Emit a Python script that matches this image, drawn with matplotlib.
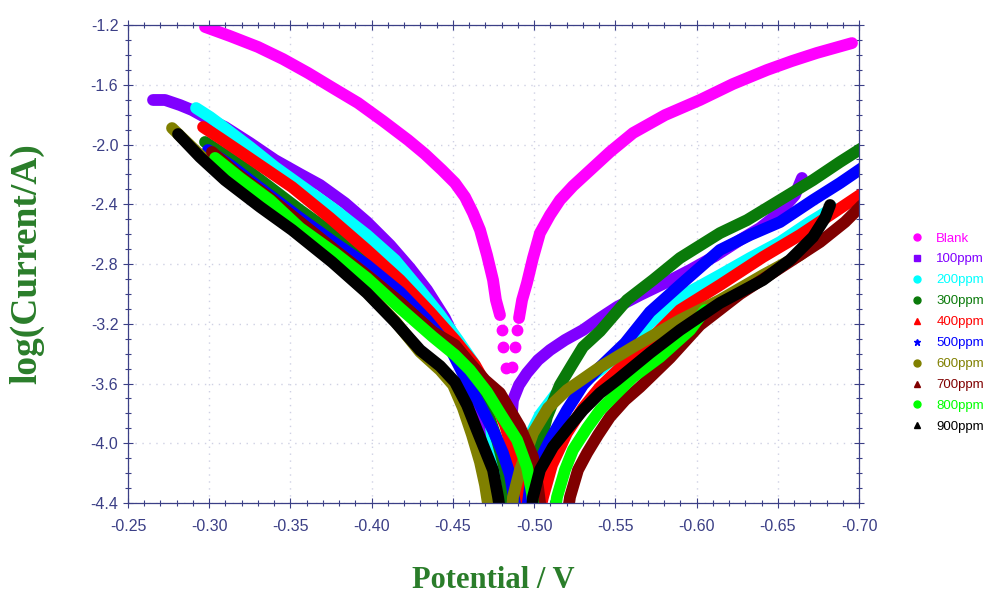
import matplotlib
matplotlib.use("Agg")
import matplotlib.pyplot as plt
from matplotlib.ticker import MultipleLocator, FormatStrFormatter

# ---------- data ----------
labels = ["Blank", "100ppm", "200ppm", "300ppm", "400ppm",
          "500ppm", "600ppm", "700ppm", "800ppm", "900ppm"]
colors = ["#ff00ff", "#8000ff", "#00ffff", "#0a7a0a", "#ff0000",
          "#0000ff", "#808000", "#800000", "#00ff00", "#000000"]
markers = ["o", "s", "o", "o", "^", "*", "o", "^", "o", "^"]

# Blank: cathodic branch, anodic branch, and the loose points near E_corr
blank_cat_E = [-0.2974, -0.3128, -0.3300, -0.3454, -0.3608, -0.3762, -0.3916, -0.4070, -0.4224, -0.4328,
               -0.4433, -0.4513, -0.4575, -0.4624, -0.4667, -0.4710, -0.4747, -0.4765, -0.4790]
blank_cat_I = [-1.213, -1.274, -1.347, -1.428, -1.521, -1.622, -1.722, -1.843, -1.970, -2.064,
               -2.171, -2.258, -2.352, -2.459, -2.572, -2.740, -2.907, -3.041, -3.142]
blank_an_E = [-0.4907, -0.4926, -0.4956, -0.4993, -0.5036, -0.5098, -0.5159, -0.5239, -0.5326,
              -0.5467, -0.5609, -0.5806, -0.6021, -0.6224, -0.6434, -0.6588, -0.6741, -0.6957]
blank_an_I = [-3.162, -3.041, -2.927, -2.760, -2.593, -2.472, -2.372, -2.278, -2.191,
              -2.050, -1.923, -1.803, -1.702, -1.595, -1.501, -1.441, -1.387, -1.321]
blank_dot_E = [-0.4802, -0.4808, -0.4827, -0.4864, -0.4882, -0.4895]
blank_dot_I = [-3.242, -3.356, -3.496, -3.490, -3.356, -3.242]

p100_cat_E = [-0.2654, -0.2728, -0.2820, -0.2894, -0.3005, -0.3097, -0.3251, -0.3405, -0.3559, -0.3682, -0.3836,
              -0.3971, -0.4113, -0.4236, -0.4341, -0.4451, -0.4544, -0.4605, -0.4655, -0.4710, -0.4759, -0.4808, -0.4827]
p100_cat_I = [-1.702, -1.702, -1.736, -1.769, -1.836, -1.883, -1.990, -2.104, -2.198, -2.271, -2.392,
              -2.519, -2.673, -2.827, -2.974, -3.162, -3.376, -3.577, -3.798, -4.025, -4.179, -4.313, -4.447]
p100_an_E = [-0.4833, -0.4839, -0.4852, -0.4870, -0.4907, -0.4956, -0.5024, -0.5098, -0.5190, -0.5301, -0.5406,
             -0.5510, -0.5652, -0.5806, -0.5960, -0.6114, -0.6268, -0.6391, -0.6514, -0.6606, -0.6649]
p100_an_I = [-4.447, -4.179, -3.945, -3.711, -3.610, -3.530, -3.443, -3.376, -3.309, -3.242, -3.162,
             -3.088, -3.008, -2.927, -2.840, -2.747, -2.639, -2.559, -2.452, -2.338, -2.224]

p200_cat_E = [-0.2919, -0.3005, -0.3097, -0.3251, -0.3405, -0.3559, -0.3774, -0.3971, -0.4144,
              -0.4298, -0.4421, -0.4531, -0.4624, -0.4685, -0.4729, -0.4759, -0.4784]
p200_cat_I = [-1.756, -1.816, -1.890, -2.017, -2.151, -2.271, -2.439, -2.606, -2.773,
              -2.974, -3.142, -3.309, -3.456, -3.610, -3.845, -4.112, -4.447]
p200_an_E = [-0.4852, -0.4901, -0.4962, -0.5036, -0.5129, -0.5252, -0.5406, -0.5560, -0.5713,
             -0.5898, -0.6144, -0.6329, -0.6514, -0.6698, -0.6840]
p200_an_I = [-4.447, -4.179, -3.978, -3.811, -3.677, -3.630, -3.510, -3.362, -3.195,
             -3.021, -2.874, -2.760, -2.653, -2.519, -2.425]

p300_cat_E = [-0.2974, -0.3097, -0.3251, -0.3559, -0.3774, -0.3971, -0.4174, -0.4359, -0.4482,
              -0.4593, -0.4698, -0.4772, -0.4821, -0.4858]
p300_cat_I = [-1.983, -2.070, -2.184, -2.439, -2.606, -2.760, -2.941, -3.142, -3.309,
              -3.510, -3.744, -3.978, -4.179, -4.447]
p300_an_E = [-0.4962, -0.4993, -0.5036, -0.5079, -0.5159, -0.5233, -0.5301, -0.5406, -0.5572,
             -0.5732, -0.5898, -0.6144, -0.6311, -0.6514, -0.6717, -0.6883, -0.7019]
p300_an_I = [-4.447, -4.199, -4.012, -3.824, -3.610, -3.476, -3.355, -3.250, -3.041,
             -2.907, -2.760, -2.593, -2.506, -2.372, -2.238, -2.117, -2.023]

p400_cat_E = [-0.2962, -0.3066, -0.3202, -0.3356, -0.3510, -0.3744, -0.3971, -0.4174,
              -0.4359, -0.4513, -0.4636, -0.4741, -0.4821, -0.4882, -0.4932, -0.4956]
p400_cat_I = [-1.883, -1.957, -2.057, -2.171, -2.285, -2.492, -2.706, -2.907,
              -3.121, -3.309, -3.476, -3.677, -3.878, -4.112, -4.313, -4.447]
p400_an_E = [-0.5036, -0.5055, -0.5110, -0.5202, -0.5301, -0.5406, -0.5560,
             -0.5713, -0.5898, -0.6144, -0.6409, -0.6637, -0.6822, -0.7006]
p400_an_I = [-4.447, -4.360, -4.146, -3.932, -3.764, -3.624, -3.463,
             -3.309, -3.108, -2.941, -2.753, -2.606, -2.472, -2.338]

p500_cat_E = [-0.2992, -0.3128, -0.3313, -0.3559, -0.3774, -0.3971, -0.4174, -0.4341,
              -0.4482, -0.4575, -0.4667, -0.4747, -0.4808, -0.4852, -0.4889]
p500_cat_I = [-2.037, -2.137, -2.291, -2.492, -2.660, -2.807, -2.988, -3.175,
              -3.362, -3.563, -3.744, -3.912, -4.065, -4.213, -4.447]
p500_an_E = [-0.4956, -0.4975, -0.5036, -0.5098, -0.5202, -0.5301, -0.5406, -0.5560,
             -0.5713, -0.5898, -0.6144, -0.6329, -0.6514, -0.6717, -0.6883, -0.7019]
p500_an_I = [-4.447, -4.293, -4.112, -3.978, -3.778, -3.610, -3.490, -3.329,
             -3.121, -2.941, -2.706, -2.606, -2.519, -2.372, -2.258, -2.157]

p600_cat_E = [-0.2771, -0.2943, -0.3097, -0.3313, -0.3510, -0.3756, -0.3971, -0.4144,
              -0.4298, -0.4421, -0.4501, -0.4562, -0.4618, -0.4667, -0.4698, -0.4722]
p600_cat_I = [-1.890, -2.070, -2.224, -2.405, -2.566, -2.780, -2.988, -3.182,
              -3.389, -3.510, -3.610, -3.764, -3.945, -4.126, -4.280, -4.447]
p600_an_E = [-0.4864, -0.4870, -0.4913, -0.4993, -0.5086, -0.5202, -0.5406,
             -0.5609, -0.5898, -0.6144, -0.6409, -0.6637, -0.6760]
p600_an_I = [-4.447, -4.360, -4.179, -3.932, -3.764, -3.644, -3.490,
             -3.356, -3.175, -3.041, -2.874, -2.740, -2.639]

p700_cat_E = [-0.3017, -0.3159, -0.3374, -0.3559, -0.3774, -0.3971, -0.4174, -0.4378, -0.4513,
              -0.4605, -0.4698, -0.4790, -0.4852, -0.4913, -0.4993, -0.5024, -0.5042]
p700_cat_I = [-2.050, -2.184, -2.358, -2.519, -2.706, -2.874, -3.055, -3.255, -3.342,
              -3.463, -3.577, -3.664, -3.778, -3.891, -4.092, -4.293, -4.447]
p700_an_E = [-0.5209, -0.5221, -0.5270, -0.5326, -0.5393, -0.5467, -0.5560, -0.5652,
             -0.5837, -0.6021, -0.6268, -0.6514, -0.6760, -0.6914, -0.7019]
p700_an_I = [-4.447, -4.360, -4.179, -4.065, -3.945, -3.824, -3.711, -3.624,
             -3.429, -3.209, -3.001, -2.827, -2.653, -2.519, -2.405]

p800_cat_E = [-0.3036, -0.3190, -0.3374, -0.3559, -0.3774, -0.3971, -0.4174, -0.4378,
              -0.4513, -0.4605, -0.4710, -0.4790, -0.4895, -0.4956, -0.4987, -0.4999]
p800_cat_I = [-2.090, -2.224, -2.372, -2.559, -2.727, -2.894, -3.095, -3.289,
              -3.409, -3.510, -3.657, -3.798, -3.978, -4.159, -4.333, -4.447]
p800_an_E = [-0.5129, -0.5141, -0.5190, -0.5239, -0.5326, -0.5406, -0.5510, -0.5609,
             -0.5775, -0.5960, -0.6052]
p800_an_I = [-4.447, -4.360, -4.179, -4.045, -3.898, -3.778, -3.664, -3.557,
             -3.423, -3.242, -3.108]

p900_cat_E = [-0.2808, -0.2943, -0.3097, -0.3313, -0.3510, -0.3756, -0.3971, -0.4144, -0.4298,
              -0.4421, -0.4513, -0.4587, -0.4648, -0.4710, -0.4747, -0.4778, -0.4790]
p900_cat_I = [-1.930, -2.084, -2.238, -2.418, -2.572, -2.787, -2.994, -3.188, -3.376,
              -3.483, -3.590, -3.744, -3.912, -4.079, -4.179, -4.360, -4.447]
p900_an_E = [-0.4987, -0.4993, -0.5036, -0.5116, -0.5209, -0.5301, -0.5406, -0.5510,
             -0.5713, -0.5898, -0.6144, -0.6409, -0.6575, -0.6717, -0.6791, -0.6822]
p900_an_I = [-4.447, -4.360, -4.179, -4.025, -3.898, -3.778, -3.664, -3.577,
             -3.396, -3.242, -3.061, -2.907, -2.773, -2.619, -2.492, -2.405]

curves = [
    (blank_cat_E, blank_cat_I, blank_an_E, blank_an_I),
    (p100_cat_E, p100_cat_I, p100_an_E, p100_an_I),
    (p200_cat_E, p200_cat_I, p200_an_E, p200_an_I),
    (p300_cat_E, p300_cat_I, p300_an_E, p300_an_I),
    (p400_cat_E, p400_cat_I, p400_an_E, p400_an_I),
    (p500_cat_E, p500_cat_I, p500_an_E, p500_an_I),
    (p600_cat_E, p600_cat_I, p600_an_E, p600_an_I),
    (p700_cat_E, p700_cat_I, p700_an_E, p700_an_I),
    (p800_cat_E, p800_cat_I, p800_an_E, p800_an_I),
    (p900_cat_E, p900_cat_I, p900_an_E, p900_an_I),
]

# ---------- figure ----------
axis_col = "#3b3f86"
label_col = "#2a7d2a"
tick_font = ["Liberation Sans Narrow", "Liberation Sans", "DejaVu Sans"]
serif_font = ["Liberation Serif", "DejaVu Serif"]

fig = plt.figure(figsize=(9.95, 5.96), dpi=100)
ax = fig.add_axes([128 / 995, 1 - 503 / 596, (859 - 128) / 995, (503 - 25) / 596])

for (cE, cI, aE, aI), c, m, lab in zip(curves, colors, markers, labels):
    ax.plot(cE, cI, color=c, lw=8.5, solid_capstyle="round", solid_joinstyle="round")
    ax.plot(aE, aI, color=c, lw=8.5, solid_capstyle="round", solid_joinstyle="round")
    # empty line, only used as legend handle
    ax.plot([], [], ls="none", marker=m, color=c, ms=5, label=lab)
ax.plot(blank_dot_E, blank_dot_I, ls="none", marker="o", ms=7.5, color=colors[0], zorder=1.9)

ax.set_xlim(-0.25, -0.70)
ax.set_ylim(-4.4, -1.2)
ax.xaxis.set_major_locator(MultipleLocator(0.05))
ax.xaxis.set_minor_locator(MultipleLocator(0.01))
ax.yaxis.set_major_locator(MultipleLocator(0.4))
ax.yaxis.set_minor_locator(MultipleLocator(0.1))
ax.xaxis.set_major_formatter(FormatStrFormatter("%.2f"))
ax.yaxis.set_major_formatter(FormatStrFormatter("%.1f"))

ax.grid(True, which="major", color="#cfd1e4", linestyle=(0, (1, 4)), lw=1.0)
ax.set_axisbelow(True)
for s in ax.spines.values():
    s.set_color(axis_col)
    s.set_linewidth(0.9)
ax.tick_params(which="both", direction="inout", top=True, right=True, color=axis_col,
               labelcolor=axis_col, labelsize=11.5, width=0.8)
ax.tick_params(which="major", length=7)
ax.tick_params(which="minor", length=4)
ax.tick_params(axis="x", pad=8)
for t in ax.get_xticklabels() + ax.get_yticklabels():
    t.set_family(tick_font)

ax.set_xlabel("Potential / V", family=serif_font, fontweight="bold", fontsize=22, color=label_col)
ax.set_ylabel("log(Current/A)", family=serif_font, fontweight="bold", fontsize=27, color=label_col)
ax.xaxis.label.set_va("center")
ax.yaxis.label.set_va("center")
ax.xaxis.set_label_coords(0.5, (503 - 581) / 478)
ax.yaxis.set_label_coords((27 - 128) / 731, 0.5)

leg = ax.legend(loc="upper left", bbox_to_anchor=(906 / 995, 1 - 227 / 596),
                bbox_transform=fig.transFigure, frameon=False,
                handlelength=0.8, handletextpad=1.1, labelspacing=0.66, borderaxespad=0,
                prop={"family": tick_font, "size": 9.5})
for t, c in zip(leg.get_texts(), colors):
    t.set_color(c)

fig.savefig("out.png", dpi=100)
